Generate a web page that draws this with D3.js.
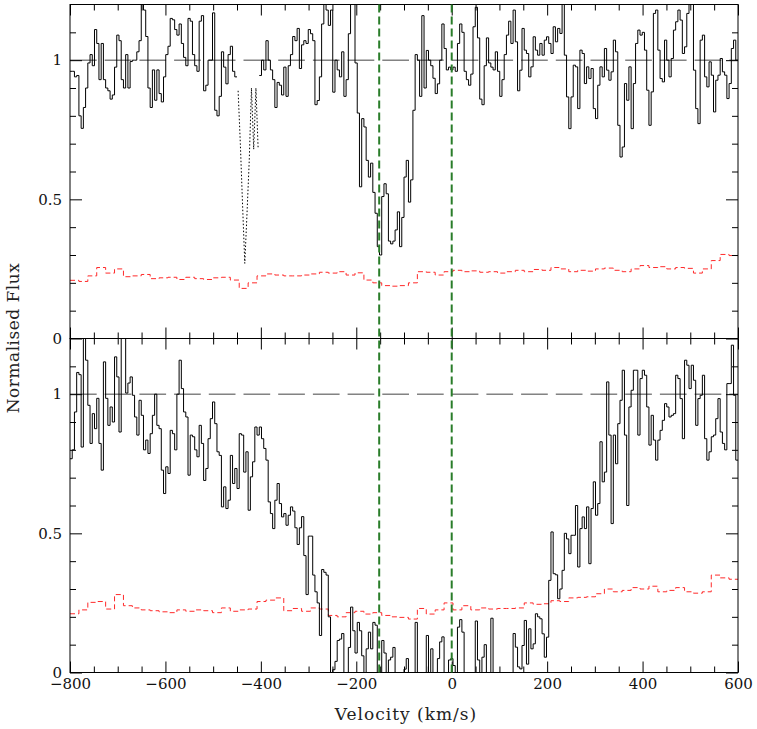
<!DOCTYPE html>
<html><head><meta charset="utf-8">
<script src="https://cdn.jsdelivr.net/npm/d3@7"></script>
<style>body{margin:0;background:#fff}svg{display:block}</style>
</head><body><svg id="c" width="757" height="729"></svg>
<script>
// ---- data ----
const velocityStart = -800, velocityEnd = 600;
const topFlux = [
0.96,0.96,0.94,0.945,0.80,0.755,0.83,0.90,0.99,1.02,
0.98,1.11,1.06,0.93,1.06,0.93,0.90,0.89,0.86,0.875,
0.975,1.09,1.07,0.93,0.90,1.02,0.90,0.995,1.0,1.0,
1.03,1.07,1.2,1.18,1.085,0.90,0.83,0.965,0.856,0.965,
0.88,0.85,0.94,1.02,1.05,1.15,1.145,1.11,1.09,1.13,
1.06,1.01,0.98,1.15,1.14,1.02,0.98,0.96,1.14,1.16,
0.89,0.91,1.0,1.0,1.17,0.82,0.80,0.87,1.03,0.975,
0.915,1.02,1.05,0.96,0.94,0.89,0.70,0.48,0.27,0.45,
0.64,0.90,0.68,0.90,0.68,0.945,1.0,0.965,1.07,1.0,
0.965,0.93,0.83,0.92,0.91,0.875,0.975,0.87,0.98,1.02,
1.085,1.07,1.114,0.97,1.055,1.07,1.06,1.11,1.095,1.07,
0.84,0.855,0.94,1.13,1.2,1.18,1.125,1.18,0.885,1.0,
0.965,0.94,1.03,0.87,0.93,1.095,1.2,1.2,0.99,0.81,
0.545,0.79,0.76,0.64,0.58,0.63,0.525,0.45,0.33,0.30,
0.51,0.556,0.52,0.35,0.34,0.35,0.39,0.455,0.33,0.435,
0.58,0.64,0.49,0.57,0.82,1.02,1.0,0.87,1.16,0.90,
1.035,1.0,0.98,0.935,0.88,0.915,1.0,1.13,1.042,0.965,
0.975,0.965,0.975,0.96,1.06,1.13,1.1,0.96,0.93,0.91,
0.95,1.12,1.19,1.08,0.86,0.84,0.98,1.08,0.99,0.975,
0.965,1.03,0.96,0.87,0.93,1.02,1.09,1.14,1.06,1.18,
1.066,0.89,0.964,1.114,1.036,1.024,0.94,0.976,1.084,1.036,
1.018,1.06,1.018,1.072,1.084,1.06,1.024,1.12,1.066,1.114,
1.096,1.2,1.018,0.868,0.754,0.868,0.982,0.976,0.826,1.036,
1.024,0.916,0.976,0.934,0.97,0.826,0.79,0.91,0.976,0.94,
1.042,0.964,0.928,0.958,1.072,1.03,0.766,0.652,0.688,0.916,
0.856,0.976,0.754,0.916,1.06,1.108,1.09,1.1,1.036,0.892,
0.766,0.886,1.168,1.18,1.036,0.934,0.922,1.072,1.0,0.94,
1.006,1.108,1.138,1.18,1.144,1.024,1.048,1.168,1.2,1.2,
0.964,0.826,0.772,1.072,1.09,0.94,0.904,0.994,0.946,0.814,
0.928,0.946,1.006,0.958,0.946,0.862,0.916,1.042,1.072,1.0
];
const bottomFlux = [
0.768,0.80,0.936,1.078,1.07,0.81,1.2,1.122,0.96,0.823,
0.93,0.876,0.985,0.823,0.727,1.116,0.985,0.888,0.954,0.90,
1.134,1.062,0.864,1.2,1.2,1.004,1.04,1.062,0.996,0.918,
0.853,0.978,0.924,0.80,0.835,0.787,0.858,0.924,1.0,0.888,
0.876,0.727,0.643,0.739,0.715,0.87,0.858,0.80,1.0,1.122,
1.02,0.936,0.918,0.709,0.853,0.847,0.80,0.775,0.888,0.823,
0.69,0.733,0.84,0.912,0.972,0.894,0.793,0.78,0.595,0.667,
0.589,0.619,0.78,0.679,0.733,0.661,0.858,0.853,0.72,0.793,
0.583,0.703,0.757,0.882,0.853,0.882,0.84,0.805,0.763,0.613,
0.571,0.517,0.619,0.679,0.607,0.559,0.571,0.529,0.565,0.595,
0.58,0.52,0.46,0.52,0.56,0.42,0.28,0.49,0.49,0.35,
0.29,0.25,0.133,0.37,0.36,0.35,0.2,0.0,0.01,0.04,
0.115,0.12,0.14,0.0,0.0,0.09,0.235,0.15,0.07,0.18,
0.15,0.06,0.0,0.085,0.145,0.085,0.18,0.17,0.0,0.0,
0.115,0.07,0.0,0.045,0.055,0.09,0.0,0.0,0.0,0.0,
0.012,0.05,0.0,0.0,0.0,0.18,0.0,0.0,0.0,0.0,
0.133,0.0,0.085,0.0,0.0,0.05,0.11,0.128,0.0,0.0,
0.045,0.05,0.025,0.0,0.163,0.19,0.145,0.0,0.0,0.0,
0.0,0.0,0.185,0.045,0.0,0.055,0.1,0.0,0.0,0.195,
0.0,0.0,0.0,0.0,0.0,0.0,0.0,0.0,0.0,0.14,
0.091,0.02,0.013,0.097,0.187,0.03,0.157,0.085,0.103,0.211,
0.2,0.193,0.139,0.055,0.127,0.331,0.505,0.355,0.351,0.265,
0.3,0.367,0.5,0.48,0.427,0.493,0.493,0.6,0.379,0.517,
0.559,0.517,0.595,0.391,0.589,0.685,0.565,0.607,0.829,0.685,
0.72,1.044,0.853,0.535,0.853,0.75,0.894,0.978,1.086,0.853,
0.6,0.954,1.014,1.086,1.086,0.853,1.056,1.086,1.068,0.954,
0.817,0.924,0.835,0.763,0.835,0.87,0.906,0.966,0.954,0.918,
0.924,0.93,1.068,1.056,0.984,0.84,1.122,1.104,1.02,1.104,
1.05,0.888,0.984,0.996,1.068,0.84,0.763,0.793,0.847,0.853,
0.912,0.984,0.864,0.823,0.8,1.038,1.038,1.176,0.996,0.763
];
const topError = [
0.209,0.205,0.225,0.255,0.235,0.25,0.222,0.225,0.23,0.215,
0.218,0.22,0.212,0.22,0.215,0.212,0.218,0.22,0.21,0.18,
0.20,0.225,0.232,0.228,0.225,0.225,0.228,0.232,0.238,0.235,
0.24,0.228,0.236,0.21,0.20,0.19,0.188,0.19,0.20,0.24,
0.238,0.228,0.24,0.245,0.24,0.243,0.238,0.24,0.235,0.24,
0.245,0.24,0.248,0.245,0.255,0.25,0.24,0.245,0.242,0.25,
0.253,0.245,0.24,0.25,0.262,0.255,0.258,0.25,0.255,0.252,
0.235,0.25,0.28,0.302,0.298
];
const bottomError = [
0.211,0.225,0.252,0.255,0.228,0.28,0.24,0.232,0.225,0.222,
0.218,0.215,0.225,0.22,0.225,0.222,0.215,0.232,0.22,0.225,
0.228,0.255,0.26,0.268,0.222,0.23,0.22,0.232,0.228,0.205,
0.20,0.215,0.22,0.21,0.215,0.205,0.20,0.198,0.192,0.23,
0.21,0.225,0.25,0.225,0.24,0.225,0.232,0.228,0.23,0.23,
0.232,0.25,0.245,0.247,0.258,0.255,0.268,0.27,0.272,0.283,
0.30,0.29,0.295,0.305,0.30,0.31,0.29,0.295,0.305,0.29,
0.285,0.29,0.35,0.34,0.335
];
const maskedRange = [-450, -403.33];      // top panel: plotted dotted
const markerVelocities = [-152, 0];
const continuumLevel = 1;
const xMajorTicks = [-800,-600,-400,-200,0,200,400,600];
const xMinorTicks = [-750,-700,-650,-550,-500,-450,-350,-300,-250,-150,-100,-50,50,100,150,250,300,350,450,500,550];
const yMajorTicks = [0,0.5,1];
const yMinorTicks = [0.1,0.2,0.3,0.4,0.6,0.7,0.8,0.9,1.1];
const xLabel = "Velocity (km/s)";
const yLabel = "Normalised Flux";

// ---- layout ----
const L = 70, R = 738;
const panels = [
  {top: 4.5, bottom: 338.5, flux: topFlux, err: topError, mask: maskedRange, first: true},
  {top: 338.5, bottom: 672.5, flux: bottomFlux, err: bottomError, mask: null, first: false}
];
const FONT = "'DejaVu Serif', serif";
const svg = d3.select("#c");
svg.append("rect").attr("width",757).attr("height",729).attr("fill","#fff");
const x = d3.scaleLinear().domain([velocityStart, velocityEnd]).range([L, R]);

function stepPoints(vals) {
  const w = (velocityEnd - velocityStart) / vals.length;
  const pts = [];
  vals.forEach((f, i) => {
    const v0 = velocityStart + i * w;
    const mid = v0 + w / 2;
    pts.push({v: v0, f, mid}, {v: v0 + w, f, mid});
  });
  return pts;
}
function centrePoints(vals) {
  const w = (velocityEnd - velocityStart) / vals.length;
  return vals.map((f, i) => ({v: velocityStart + (i + 0.5) * w, f, mid: velocityStart + (i + 0.5) * w}));
}

panels.forEach((p, k) => {
  const y = d3.scaleLinear().domain([0, 1.2]).range([p.bottom, p.top]);
  const clipId = "clip" + k;
  svg.append("clipPath").attr("id", clipId).append("rect")
    .attr("x", L).attr("y", p.top).attr("width", R - L).attr("height", p.bottom - p.top);
  const g = svg.append("g").attr("clip-path", `url(#${clipId})`);

  // continuum
  g.append("line").attr("x1", x(velocityStart)).attr("x2", x(velocityEnd))
    .attr("y1", y(continuumLevel)).attr("y2", y(continuumLevel))
    .attr("stroke", "#444").attr("stroke-width", 1).attr("stroke-dasharray", "26.7,8");

  // error spectrum
  const errLine = d3.line().x(d => x(d.v)).y(d => y(d.f));
  g.append("path").attr("d", errLine(stepPoints(p.err)))
    .attr("fill", "none").attr("stroke", "#ff2a2a").attr("stroke-width", 1)
    .attr("stroke-dasharray", "5,3");

  // flux
  const inMask = d => p.mask && d.mid > p.mask[0] && d.mid < p.mask[1];
  const solid = d3.line().defined(d => !inMask(d)).x(d => x(d.v)).y(d => y(d.f));
  g.append("path").attr("d", solid(stepPoints(p.flux))).attr("fill", "none")
    .attr("stroke", "#000").attr("stroke-width", 1);
  if (p.mask) {
    const dotted = d3.line().defined(d => inMask(d)).x(d => x(d.v)).y(d => y(d.f));
    g.append("path").attr("d", dotted(centrePoints(p.flux))).attr("fill", "none")
      .attr("stroke", "#000").attr("stroke-width", 1).attr("stroke-dasharray", "1.5,2");
  }

  // axes
  const axG = svg.append("g").attr("font-family", FONT);
  const leftMajor = d3.axisLeft(y).tickValues(yMajorTicks).tickSize(-12).tickPadding(8)
    .tickFormat(d3.format(""));
  const leftMinor = d3.axisLeft(y).tickValues(yMinorTicks).tickSize(-6).tickFormat("");
  const rightMajor = d3.axisRight(y).tickValues(yMajorTicks).tickSize(-12).tickFormat("");
  const rightMinor = d3.axisRight(y).tickValues(yMinorTicks).tickSize(-6).tickFormat("");
  const a1 = axG.append("g").attr("transform", `translate(${L},0)`).call(leftMajor);
  axG.append("g").attr("transform", `translate(${L},0)`).call(leftMinor);
  axG.append("g").attr("transform", `translate(${R},0)`).call(rightMajor);
  axG.append("g").attr("transform", `translate(${R},0)`).call(rightMinor);
  a1.selectAll("text").attr("font-size", 15).attr("fill", "#111").attr("font-family", FONT);

  const topMajor = d3.axisTop(x).tickValues(xMajorTicks).tickSize(-11).tickFormat("");
  const topMinor = d3.axisTop(x).tickValues(xMinorTicks).tickSize(-6).tickFormat("");
  axG.append("g").attr("transform", `translate(0,${p.top})`).call(topMajor);
  axG.append("g").attr("transform", `translate(0,${p.top})`).call(topMinor);
  const botMajor = d3.axisBottom(x).tickValues(xMajorTicks).tickSize(-11).tickPadding(6)
    .tickFormat(p.first ? "" : d3.format(""));
  const botMinor = d3.axisBottom(x).tickValues(xMinorTicks).tickSize(-6).tickFormat("");
  const b1 = axG.append("g").attr("transform", `translate(0,${p.bottom})`).call(botMajor);
  axG.append("g").attr("transform", `translate(0,${p.bottom})`).call(botMinor);
  b1.selectAll("text").attr("font-size", 15).attr("fill", "#111").attr("font-family", FONT);
  axG.selectAll(".domain").remove();
  axG.selectAll(".tick line").attr("stroke", "#000").attr("stroke-width", 1);

  // frame
  svg.append("rect").attr("x", L).attr("y", p.top).attr("width", R - L)
    .attr("height", p.bottom - p.top).attr("fill", "none").attr("stroke", "#000").attr("stroke-width", 1);
});

// velocity markers across both panels
svg.selectAll(".marker").data(markerVelocities).enter().append("line")
  .attr("x1", d => x(d)).attr("x2", d => x(d))
  .attr("y1", panels[0].top).attr("y2", panels[1].bottom)
  .attr("stroke", "#2a7d2a").attr("stroke-width", 2).attr("stroke-dasharray", "8,4");

// labels
svg.append("text").attr("x", (L + R) / 2 + 2).attr("y", 720).attr("text-anchor", "middle")
  .attr("font-family", FONT).attr("font-size", 17).attr("letter-spacing", 1)
  .attr("fill", "#222").text(xLabel);
svg.append("text").attr("transform", "translate(19,338) rotate(-90)").attr("text-anchor", "middle")
  .attr("font-family", FONT).attr("font-size", 17).attr("letter-spacing", 0.5)
  .attr("fill", "#222").text(yLabel);
</script></body></html>
